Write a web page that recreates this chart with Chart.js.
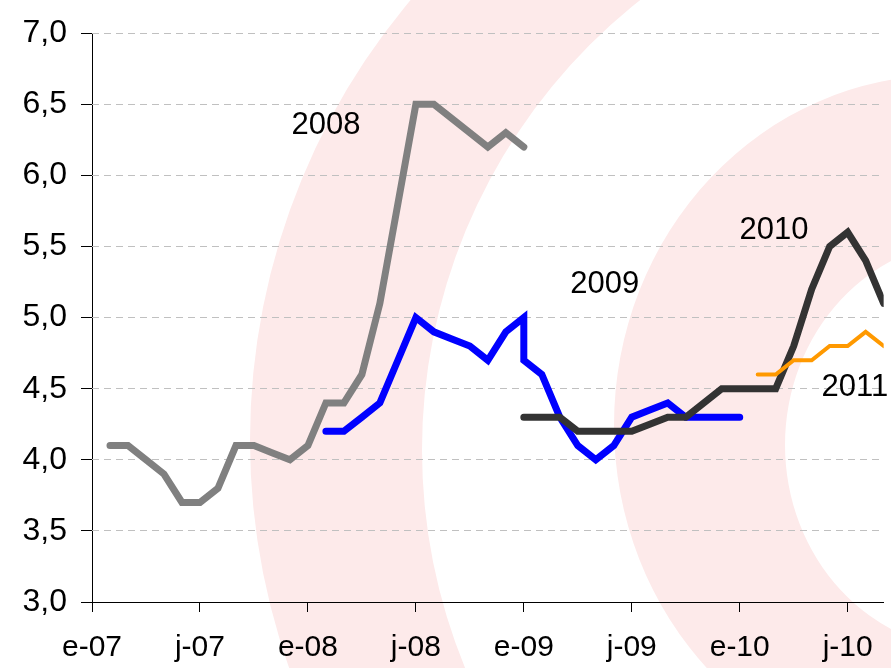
<!DOCTYPE html>
<html>
<head>
<meta charset="utf-8">
<script src="https://cdn.jsdelivr.net/npm/chart.js@4/dist/chart.umd.min.js"></script>
<style>
  html, body { margin: 0; padding: 0; background: #fff; }
  canvas { display: block; }
</style>
</head>
<body>
<canvas id="chart" width="891" height="668"></canvas>
<script>
// months counted from e-07 (0) to the right edge of the axis (44)
const tickMonths = [0, 6, 12, 18, 24, 30, 36, 42];
const tickLabels = ['e-07', 'j-07', 'e-08', 'j-08', 'e-09', 'j-09', 'e-10', 'j-10'];

const months2008 = [1, 2, 3, 4, 5, 6, 7, 8, 9, 10, 11, 12, 13, 14, 15, 16, 17, 18, 19, 20, 21, 22, 23, 24];
const values2008 = [4.1, 4.1, 4.0, 3.9, 3.7, 3.7, 3.8, 4.1, 4.1, 4.05, 4.0, 4.1, 4.4, 4.4, 4.6, 5.1, 5.8, 6.5, 6.5, 6.4, 6.3, 6.2, 6.3, 6.2];

const months2009 = [13, 14, 15, 16, 17, 18, 19, 20, 21, 22, 23, 24, 24, 25, 26, 27, 28, 29, 30, 31, 32, 33, 34, 35, 36];
const values2009 = [4.2, 4.2, 4.3, 4.4, 4.7, 5.0, 4.9, 4.85, 4.8, 4.7, 4.9, 5.0, 4.7, 4.6, 4.3, 4.1, 4.0, 4.1, 4.3, 4.35, 4.4, 4.3, 4.3, 4.3, 4.3];

const months2010 = [24, 25, 26, 27, 28, 29, 30, 31, 32, 33, 34, 35, 36, 37, 38, 39, 40, 41, 42, 43, 44];
const values2010 = [4.3, 4.3, 4.3, 4.2, 4.2, 4.2, 4.2, 4.25, 4.3, 4.3, 4.4, 4.5, 4.5, 4.5, 4.5, 4.8, 5.2, 5.5, 5.6, 5.4, 5.1];

const months2011 = [37, 38, 39, 40, 41, 42, 43, 44];
const values2011 = [4.6, 4.6, 4.7, 4.7, 4.8, 4.8, 4.9, 4.8];

// series names written on the chart, anchored in data coordinates
const seriesNames = ['2008', '2009', '2010', '2011'];
const nameMonths = [13.0, 28.5, 37.9, 42.4];
const nameValues = [6.35, 5.23, 5.61, 4.51];

const FONT = "'Liberation Sans', Arial, sans-serif";

function points(months, values) {
  return months.map((m, i) => ({ x: m, y: values[i] }));
}

// pale pink rings behind everything
const backdrop = {
  id: 'backdrop',
  beforeDraw(chart) {
    const ctx = chart.ctx;
    ctx.save();
    ctx.fillStyle = '#ffffff';
    ctx.fillRect(0, 0, chart.width, chart.height);
    ctx.fillStyle = '#fdeaea';
    ctx.beginPath();
    ctx.ellipse(933, 440, 683, 683, 0, 0, Math.PI * 2);
    ctx.ellipse(995, 450, 573, 573, 0, 0, Math.PI * 2);
    ctx.fill('evenodd');
    ctx.beginPath();
    ctx.ellipse(945, 425, 331, 350, 0, 0, Math.PI * 2);
    ctx.ellipse(975, 445, 190, 205, 0, 0, Math.PI * 2);
    ctx.fill('evenodd');
    ctx.restore();
  }
};

const seriesLabels = {
  id: 'seriesLabels',
  afterDatasetsDraw(chart) {
    const ctx = chart.ctx;
    const xs = chart.scales.x, ys = chart.scales.y;
    ctx.save();
    ctx.fillStyle = '#000';
    ctx.font = '31px ' + FONT;
    ctx.textAlign = 'center';
    ctx.textBaseline = 'middle';
    seriesNames.forEach((name, i) => {
      ctx.fillText(name, xs.getPixelForValue(nameMonths[i]), ys.getPixelForValue(nameValues[i]));
    });
    ctx.restore();
  }
};

function line(data, color, width, order) {
  return {
    data: data,
    borderColor: color,
    borderWidth: width,
    pointRadius: 0,
    tension: 0,
    fill: false,
    borderCapStyle: 'round',
    borderJoinStyle: 'miter',
    order: order
  };
}

new Chart(document.getElementById('chart'), {
  type: 'line',
  data: {
    datasets: [
      line(points(months2008, values2008), '#808080', 7, 4),
      line(points(months2009, values2009), '#0000ff', 7, 3),
      line(points(months2010, values2010), '#333333', 7, 2),
      line(points(months2011, values2011), '#ff9900', 4, 1)
    ]
  },
  options: {
    responsive: false,
    animation: false,
    layout: { padding: { top: 31, right: 7, left: 0, bottom: 0 } },
    plugins: { legend: { display: false }, tooltip: { enabled: false } },
    scales: {
      x: {
        type: 'linear',
        min: 0,
        max: 44,
        afterFit(scale) { scale.height = 66; },
        afterBuildTicks(scale) { scale.ticks = tickMonths.map(v => ({ value: v })); },
        ticks: {
          autoSkip: false,
          maxRotation: 0,
          padding: 18,
          color: '#000',
          font: { family: FONT, size: 30 },
          callback: (v) => tickLabels[tickMonths.indexOf(v)]
        },
        // the grid line at month 0 doubles as the solid vertical axis
        grid: {
          drawOnChartArea: true,
          color: (c) => c.tick && c.tick.value === 0 ? '#000' : 'rgba(0,0,0,0)',
          tickLength: 10,
          tickColor: '#000',
          tickWidth: 1
        },
        border: { color: '#000', width: 1 }
      },
      y: {
        min: 3,
        max: 7,
        afterFit(scale) { scale.width = 92; },
        ticks: {
          stepSize: 0.5,
          padding: 14,
          color: '#000',
          font: { family: FONT, size: 32 },
          callback: (v) => v.toFixed(1).replace('.', ',')
        },
        grid: {
          color: (c) => c.tick && c.tick.value === 3 ? 'rgba(0,0,0,0)' : '#c0c0c0',
          lineWidth: 1,
          tickLength: 11,
          tickColor: '#000',
          tickBorderDash: []
        },
        border: { display: false, dash: [7, 5] }
      }
    }
  },
  plugins: [backdrop, seriesLabels]
});
</script>
</body>
</html>
